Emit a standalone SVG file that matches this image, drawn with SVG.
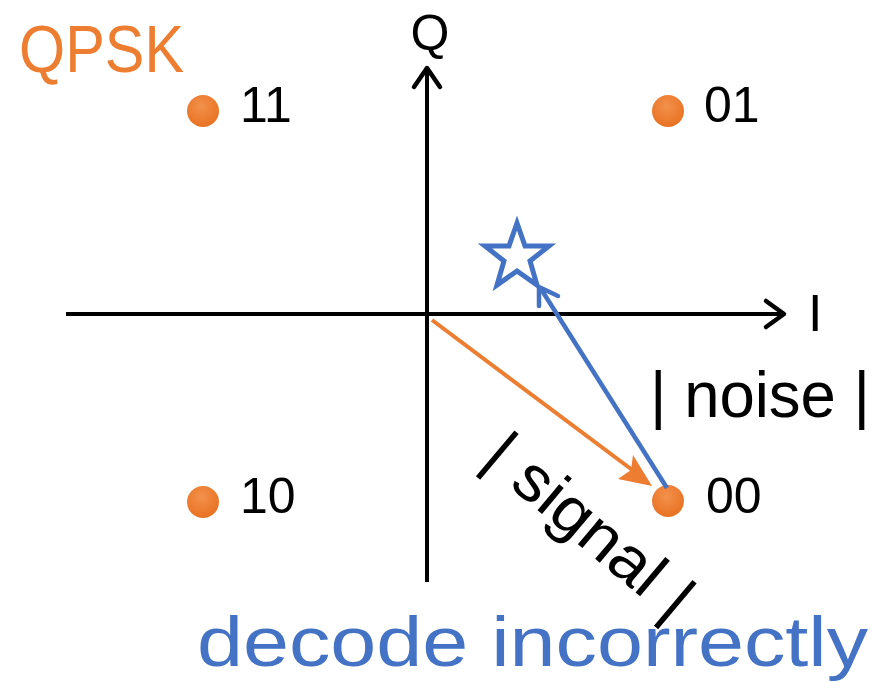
<svg xmlns="http://www.w3.org/2000/svg" width="876" height="683" viewBox="0 0 876 683">
<style>
.t{font-family:"Liberation Sans","DejaVu Sans",sans-serif;}
.blk{fill:#000;}
.axis{stroke:#000;stroke-width:4;fill:none;}
.head{stroke:#000;stroke-width:4.5;fill:none;stroke-linecap:round;stroke-linejoin:round;}
.dot{fill:url(#og);}
</style>
<defs>
<radialGradient id="og" cx="0.45" cy="0.35" r="0.7">
<stop offset="0" stop-color="#F2914C"/>
<stop offset="1" stop-color="#E86F1F"/>
</radialGradient>
</defs>
<rect width="876" height="683" fill="#fff"/>
<g id="axes">
<line class="axis" x1="66" y1="314" x2="783" y2="314"/>
<polyline class="head" points="766,301 784,314 766,327"/>
<line class="axis" x1="427" y1="582" x2="427" y2="68"/>
<polyline class="head" points="414,87 427,68 440,87"/>
<text class="t blk" x="430" y="50" font-size="50" text-anchor="middle">Q</text>
<text class="t blk" x="808" y="331" font-size="52">I</text>
</g>
<text id="qpsk" class="t" x="19" y="72" font-size="66" fill="#ED7D31" textLength="165" lengthAdjust="spacingAndGlyphs">QPSK</text>
<g id="p11"><circle class="dot" cx="203" cy="111" r="16"/><text class="t blk" x="240" y="122" font-size="50">11</text></g>
<g id="p01"><circle class="dot" cx="668" cy="111" r="16"/><text class="t blk" x="704" y="122" font-size="50">01</text></g>
<g id="p10"><circle class="dot" cx="203" cy="502" r="16"/><text class="t blk" x="240" y="513" font-size="50">10</text></g>
<g id="p00"><circle class="dot" cx="668" cy="501" r="16"/><text class="t blk" x="706" y="513" font-size="50">00</text></g>
<g id="star"><polygon points="517,223 525,246 549,246 530,261 537,285 517,271 497,285 504,261 485,246 509,246" fill="#fff" stroke="#4472C4" stroke-width="5" stroke-linejoin="miter"/></g>
<g id="connectors">
<line x1="432" y1="320" x2="643" y2="478" stroke="#ED7D31" stroke-width="4"/>
<polygon points="652,486 618,479 631,470 633,455" fill="#ED7D31"/>
<line x1="667" y1="488" x2="541" y2="289" stroke="#4472C4" stroke-width="4.5"/>
<polyline points="539,306 539,287 558,296" fill="none" stroke="#4472C4" stroke-width="4.5" stroke-linecap="round" stroke-linejoin="round"/>
</g>
<text id="noise" class="t blk" x="650" y="417" font-size="64" textLength="220" lengthAdjust="spacingAndGlyphs">| noise |</text>
<text id="signal" class="t blk" font-size="64" transform="translate(480,462) rotate(40)" textLength="250" lengthAdjust="spacingAndGlyphs">| signal |</text>
<text id="decode" class="t" x="197" y="666" font-size="70" fill="#4472C4" textLength="671" lengthAdjust="spacingAndGlyphs">decode incorrectly</text>
</svg>
